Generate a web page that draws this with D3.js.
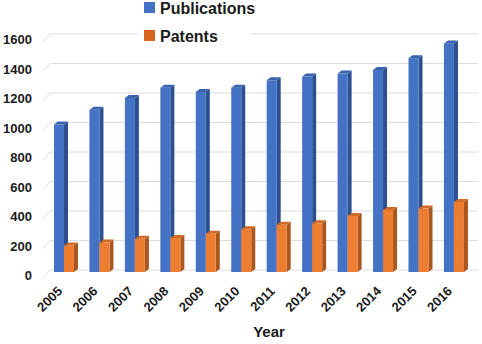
<!DOCTYPE html>
<html>
<head>
<meta charset="utf-8">
<script src="https://cdn.jsdelivr.net/npm/d3@7"></script>
<style>
  body { margin: 0; background: #fff; }
  text { font-family: "Liberation Sans", Arial, sans-serif; font-weight: bold; fill: #1a1a1a; }
</style>
</head>
<body>
<div id="chart"></div>
<script>
// data
var years = ["2005", "2006", "2007", "2008", "2009", "2010", "2011", "2012", "2013", "2014", "2015", "2016"];
var publications = [1000, 1100, 1180, 1250, 1220, 1250, 1300, 1325, 1345, 1370, 1450, 1550];
var patents = [180, 200, 225, 230, 260, 290, 320, 330, 380, 420, 430, 475];
var yTicks = [0, 200, 400, 600, 800, 1000, 1200, 1400, 1600];

var width = 482, height = 344;

var svg = d3.select("#chart")
    .append("svg")
    .attr("width", width)
    .attr("height", height);

// scales
var x = d3.scaleBand()
    .domain(years)
    .range([47, 472.4]);

var y = d3.scaleLinear()
    .domain([0, 1600])
    .range([270, 34]);

// grid lines with a small slanted wall segment on the left
var grid = svg.append("g");
yTicks.forEach(function (t) {
    grid.append("line")
        .attr("x1", 50).attr("x2", 478)
        .attr("y1", y(t)).attr("y2", y(t))
        .attr("stroke", "#dcdcdc").attr("stroke-width", 1);
    grid.append("line")
        .attr("x1", 43).attr("y1", y(t) + 8)
        .attr("x2", 50).attr("y2", y(t))
        .attr("stroke", "#dcdcdc").attr("stroke-width", 1);
});

// y labels
svg.append("g").selectAll("text")
    .data(yTicks)
    .enter().append("text")
    .attr("x", 32)
    .attr("y", function (d) { return y(d) + 7; })
    .attr("text-anchor", "end")
    .attr("dominant-baseline", "middle")
    .style("font-size", "13px")
    .text(function (d) { return d; });

// pseudo 3d bars
var depthX = 4, depthY = 3, faceW = 10;

function bar3d(g, x0, v, front, side, top) {
    var yt = y(v) + 2, yb = y(0) + 2;
    g.append("polygon")
        .attr("points", [[x0 + faceW, yt], [x0 + faceW + depthX, yt - depthY],
                         [x0 + faceW + depthX, yb - depthY], [x0 + faceW, yb]].join(" "))
        .attr("fill", side);
    g.append("polygon")
        .attr("points", [[x0, yt], [x0 + depthX, yt - depthY],
                         [x0 + faceW + depthX, yt - depthY], [x0 + faceW, yt]].join(" "))
        .attr("fill", top);
    g.append("rect")
        .attr("x", x0).attr("y", yt)
        .attr("width", faceW).attr("height", yb - yt)
        .attr("fill", front);
}

var bars = svg.append("g");
years.forEach(function (yr, i) {
    var bx = x(yr);
    bar3d(bars, bx + 7, publications[i], "#4472c4", "#2c4f8f", "#3a63ad");
    bar3d(bars, bx + 17, patents[i], "#ed7d31", "#a9571f", "#d06a25");
});

// x labels
svg.append("g").selectAll("text")
    .data(years)
    .enter().append("text")
    .attr("transform", function (d) { return "translate(" + (x(d) + 16) + ",292) rotate(-45)"; })
    .attr("text-anchor", "end")
    .style("font-size", "13px")
    .text(function (d) { return d; });

// axis title
svg.append("text")
    .attr("x", 269).attr("y", 337)
    .attr("text-anchor", "middle")
    .style("font-size", "15px")
    .text("Year");

// legend
var legend = svg.append("g");
legend.append("rect")
    .attr("x", 138).attr("y", 0)
    .attr("width", 112).attr("height", 46)
    .attr("fill", "#fff");
legend.append("rect")
    .attr("x", 144).attr("y", 2).attr("width", 11).attr("height", 11)
    .attr("fill", "#4472c4");
legend.append("text")
    .attr("x", 160).attr("y", 13.5)
    .style("font-size", "16px")
    .text("Publications");
legend.append("rect")
    .attr("x", 144).attr("y", 30).attr("width", 11).attr("height", 11)
    .attr("fill", "#d9661f");
legend.append("text")
    .attr("x", 160).attr("y", 41.5)
    .style("font-size", "16px")
    .text("Patents");
</script>
</body>
</html>
